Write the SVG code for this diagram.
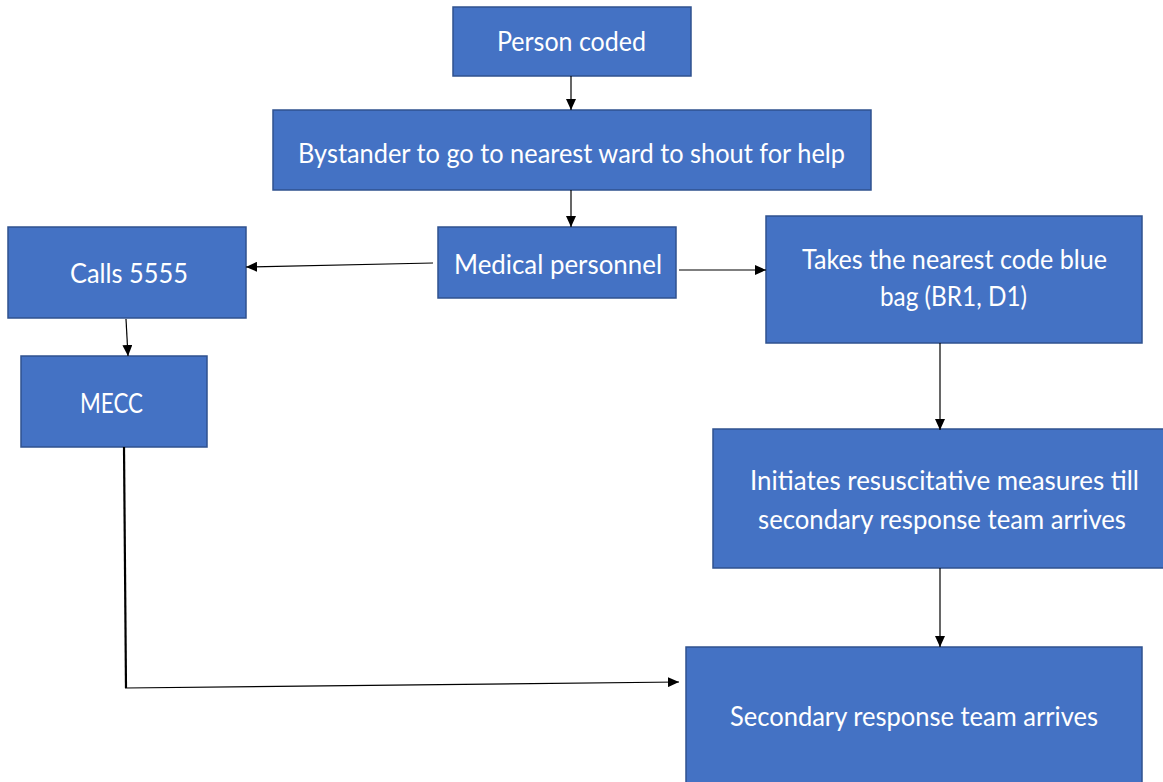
<svg xmlns="http://www.w3.org/2000/svg" width="1163" height="782" viewBox="0 0 1163 782">
  <defs>
    <marker id="arrow" markerUnits="userSpaceOnUse" markerWidth="12" markerHeight="10" refX="11" refY="5" orient="auto">
      <path d="M0,0 L11,5 L0,10 Z" fill="#000"/>
    </marker>
    <style>
      .box { fill: #4472C4; stroke: #2F528F; stroke-width: 1.5; }
      .label { font-family: Lato, "Open Sans", "Liberation Sans", sans-serif; font-size: 26px; fill: #FFFFFF; }
      .edge { fill: none; stroke: #000; stroke-width: 1.2; }
      .edge.heavy { stroke-width: 2.2; }
    </style>
  </defs>
  <rect width="1163" height="782" fill="#FFFFFF"/>

  <g id="person-coded">
    <rect class="box" x="453" y="7" width="238" height="69"/>
    <text class="label" x="497" y="51" textLength="149" lengthAdjust="spacingAndGlyphs">Person coded</text>
  </g>

  <g id="bystander">
    <rect class="box" x="273" y="110" width="598" height="80"/>
    <text class="label" x="298" y="163" textLength="547" lengthAdjust="spacingAndGlyphs">Bystander to go to nearest ward to shout for help</text>
  </g>

  <g id="medical-personnel">
    <rect class="box" x="438" y="227" width="238" height="71"/>
    <text class="label" x="454" y="274" textLength="208" lengthAdjust="spacingAndGlyphs">Medical personnel</text>
  </g>

  <g id="calls-5555">
    <rect class="box" x="8" y="227" width="238" height="91"/>
    <text class="label" x="70" y="283" textLength="118" lengthAdjust="spacingAndGlyphs">Calls 5555</text>
  </g>

  <g id="mecc">
    <rect class="box" x="21" y="356" width="186" height="91"/>
    <text class="label" x="80" y="413" textLength="63" lengthAdjust="spacingAndGlyphs">MECC</text>
  </g>

  <g id="code-blue-bag">
    <rect class="box" x="766" y="216" width="376" height="127"/>
    <text class="label" x="802" y="269" textLength="305" lengthAdjust="spacingAndGlyphs">Takes the nearest code blue</text>
    <text class="label" x="880" y="306" textLength="147" lengthAdjust="spacingAndGlyphs">bag (BR1, D1)</text>
  </g>

  <g id="resuscitation">
    <rect class="box" x="713" y="429" width="460" height="139"/>
    <text class="label" x="750" y="490" textLength="389" lengthAdjust="spacingAndGlyphs">Initiates resuscitative measures till</text>
    <text class="label" x="758" y="529" textLength="368" lengthAdjust="spacingAndGlyphs">secondary response team arrives</text>
  </g>

  <g id="secondary-team">
    <rect class="box" x="686" y="647" width="456" height="150"/>
    <text class="label" x="730" y="726" textLength="368" lengthAdjust="spacingAndGlyphs">Secondary response team arrives</text>
  </g>

  <g id="connectors">
    <line class="edge" x1="571" y1="76" x2="571" y2="110" marker-end="url(#arrow)"/>
    <line class="edge" x1="571" y1="190" x2="571" y2="227" marker-end="url(#arrow)"/>
    <line class="edge" x1="433" y1="263" x2="246" y2="267" marker-end="url(#arrow)"/>
    <line class="edge" x1="679" y1="270" x2="766" y2="270" marker-end="url(#arrow)"/>
    <line class="edge" x1="126" y1="319" x2="128" y2="356" marker-end="url(#arrow)"/>
    <line class="edge" x1="940" y1="343" x2="940" y2="430" marker-end="url(#arrow)"/>
    <line class="edge" x1="940" y1="568" x2="940" y2="647" marker-end="url(#arrow)"/>
    <line class="edge heavy" x1="124" y1="447" x2="126" y2="688"/>
    <line class="edge" x1="125" y1="688" x2="679" y2="682" marker-end="url(#arrow)"/>
  </g>
</svg>
